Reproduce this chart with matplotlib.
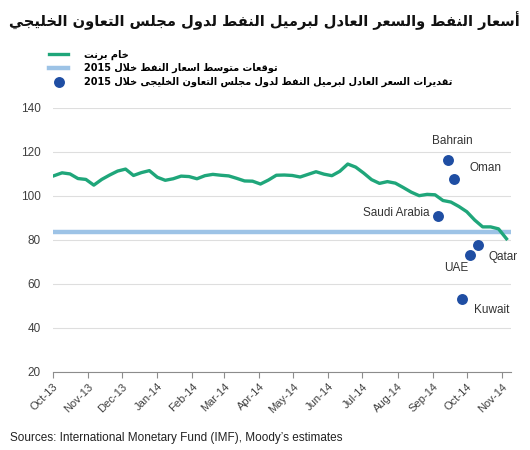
import pandas as pd
import matplotlib
matplotlib.use("Agg")
import matplotlib.pyplot as plt
import matplotlib.dates as mdates

# Brent weekly prices (USD/bbl)
brent = [109.2, 110.5, 110.0, 107.9, 107.5, 104.9, 107.5, 109.5, 111.3, 112.2,
         109.3, 110.6, 111.5, 108.5, 107.1, 107.8, 109.0, 108.8, 107.8, 109.2,
         109.8, 109.4, 109.1, 108.0, 106.8, 106.7, 105.4, 107.2, 109.4, 109.5,
         109.3, 108.6, 109.8, 111.0, 109.9, 109.2, 111.2, 114.5, 113.1, 110.4,
         107.4, 105.7, 106.5, 105.8, 103.8, 101.7, 100.1, 100.7, 100.5, 97.9,
         97.2, 95.2, 92.8, 89.0, 85.9, 85.9, 85.0, 80.5]
brent_start = "2013-10-02"

forecast_2015 = 83.5

countries = ["Saudi Arabia", "Bahrain", "Oman", "Kuwait", "UAE", "Qatar"]
breakeven = [90.7, 116.5, 107.5, 53.3, 73.3, 77.7]
breakeven_dates = ["2014-09-06", "2014-09-14", "2014-09-20", "2014-09-27",
                   "2014-10-04", "2014-10-11"]
# label offsets in pixels from each dot
label_offsets = {"Saudi Arabia": (-9, 3, "right"), "Bahrain": (5, 19, "center"),
                 "Oman": (31, 11, "center"), "Kuwait": (29, -11, "center"),
                 "UAE": (-14, -13, "center"), "Qatar": (25, -12, "center")}

title_ar = "أسعار النفط والسعر العادل لبرميل النفط لدول مجلس التعاون الخليجي"
legend_ar = ["خام برنت",
             "توقعات متوسط اسعار النفط خلال 2015",
             "تقديرات السعر العادل لبرميل النفط لدول مجلس التعاون الخليجى خلال 2015"]
source = "Sources: International Monetary Fund (IMF), Moody\u2019s estimates"

# --- minimal Arabic shaping (matplotlib has no bidi/shaping) ---
FORMS = {
    "ا": ("\uFE8D", "\uFE8E"), "أ": ("\uFE83", "\uFE84"),
    "د": ("\uFEA9", "\uFEAA"), "ر": ("\uFEAD", "\uFEAE"),
    "و": ("\uFEED", "\uFEEE"), "ى": ("\uFEEF", "\uFEF0"),
    "LA": ("\uFEFB", "\uFEFC"), "LAH": ("\uFEF7", "\uFEF8"),
    "ب": ("\uFE8F", "\uFE90", "\uFE91", "\uFE92"),
    "ت": ("\uFE95", "\uFE96", "\uFE97", "\uFE98"),
    "ج": ("\uFE9D", "\uFE9E", "\uFE9F", "\uFEA0"),
    "خ": ("\uFEA5", "\uFEA6", "\uFEA7", "\uFEA8"),
    "س": ("\uFEB1", "\uFEB2", "\uFEB3", "\uFEB4"),
    "ط": ("\uFEC1", "\uFEC2", "\uFEC3", "\uFEC4"),
    "ع": ("\uFEC9", "\uFECA", "\uFECB", "\uFECC"),
    "ف": ("\uFED1", "\uFED2", "\uFED3", "\uFED4"),
    "ق": ("\uFED5", "\uFED6", "\uFED7", "\uFED8"),
    "ل": ("\uFEDD", "\uFEDE", "\uFEDF", "\uFEE0"),
    "م": ("\uFEE1", "\uFEE2", "\uFEE3", "\uFEE4"),
    "ن": ("\uFEE5", "\uFEE6", "\uFEE7", "\uFEE8"),
    "ي": ("\uFEF1", "\uFEF2", "\uFEF3", "\uFEF4"),
}
LAM_ALEF = {"ا": "LA", "أ": "LAH"}


def shape_word(word):
    chars = []
    i = 0
    while i < len(word):
        c = word[i]
        if c == "ل" and i + 1 < len(word) and word[i + 1] in LAM_ALEF:
            chars.append(LAM_ALEF[word[i + 1]])
            i += 2
        else:
            chars.append(c)
            i += 1
    out = []
    for i, c in enumerate(chars):
        forms = FORMS.get(c)
        if forms is None:
            out.append(c)
            continue
        prev = chars[i - 1] if i > 0 else None
        nxt = chars[i + 1] if i + 1 < len(chars) else None
        jp = prev in FORMS and len(FORMS[prev]) == 4
        jn = len(forms) == 4 and nxt in FORMS
        if jp and jn:
            out.append(forms[3])
        elif jp:
            out.append(forms[1])
        elif jn:
            out.append(forms[2])
        else:
            out.append(forms[0])
    return "".join(reversed(out))


def rtl(text):
    return " ".join(t if t.isdigit() else shape_word(t) for t in reversed(text.split(" ")))


plt.rcParams["font.family"] = ["Liberation Sans", "DejaVu Sans"]

dates = pd.date_range(brent_start, periods=len(brent), freq="7D")
be_dates = pd.to_datetime(breakeven_dates)

fig = plt.figure(figsize=(5.3, 4.5), dpi=100)
ax = fig.add_axes([53 / 530, 1 - 371.7 / 450, (511 - 53) / 530, (371.7 - 108) / 450])

ax.axhline(forecast_2015, color="#9dc3e6", lw=3.2, zorder=2)
l_brent, = ax.plot(dates, brent, color="#1fa67a", lw=2.4, zorder=3)
sc = ax.scatter(be_dates, breakeven, s=62, color="#1f4ea3", zorder=4, linewidths=0)

for c, d, v in zip(countries, be_dates, breakeven):
    dx, dy, ha = label_offsets[c]
    ax.annotate(c, (d, v), xytext=(dx, dy), textcoords="offset pixels",
                ha=ha, va="center", fontsize=8.5, color="#333333")

ax.set_ylim(20, 140)
ax.set_yticks(range(20, 141, 20))
ax.set_xlim(pd.Timestamp("2013-10-01"), pd.Timestamp("2014-11-09"))
ax.xaxis.set_major_locator(mdates.MonthLocator())
ax.xaxis.set_major_formatter(mdates.DateFormatter("%b-%y"))
for lab in ax.get_xticklabels():
    lab.set_rotation(45)
    lab.set_ha("right")
    lab.set_rotation_mode("anchor")

ax.grid(axis="y", color="#dedede", lw=0.8)
ax.set_axisbelow(True)
for s in ["top", "right", "left"]:
    ax.spines[s].set_visible(False)
ax.spines["bottom"].set_color("#8c8c8c")
ax.tick_params(axis="y", length=0, pad=9, labelsize=8.5, labelcolor="#404040")
ax.tick_params(axis="x", length=4, color="#8c8c8c", labelsize=8, labelcolor="#404040", pad=3)

fig.text(0.498, 1 - 21 / 450, rtl(title_ar), ha="center", va="center",
         fontsize=10.5, fontweight="bold", family="DejaVu Sans", color="#111111")

fig.legend([l_brent, plt.Line2D([], [], color="#9dc3e6", lw=3.2), sc],
           [rtl(t) for t in legend_ar], loc="upper left",
           bbox_to_anchor=(44 / 530, 1 - 45 / 450), frameon=False,
           prop={"family": "DejaVu Sans", "weight": "bold", "size": 7},
           handlelength=2.0, handletextpad=1.6, labelspacing=0.32,
           borderpad=0, scatterpoints=1)

fig.text(10 / 530, 1 - 438 / 450, source, ha="left", va="center",
         fontsize=8.5, color="#222222")

fig.savefig("out.png", dpi=100)
